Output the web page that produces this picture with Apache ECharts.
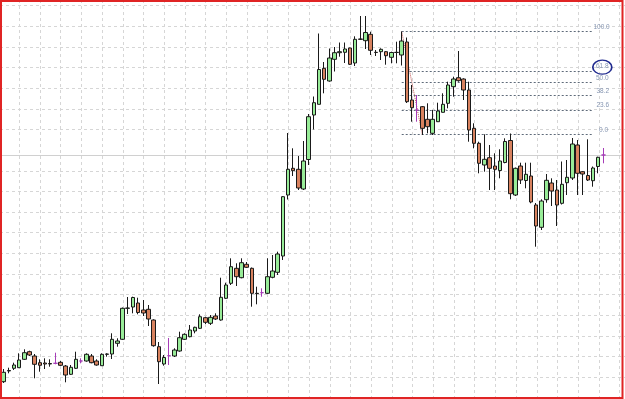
<!DOCTYPE html>
<html><head><meta charset="utf-8">
<script src="https://cdn.jsdelivr.net/npm/echarts@6/dist/echarts.min.js"></script>
<style>html,body{margin:0;padding:0;background:#fff}#c{width:625px;height:399px}</style>
</head><body><div id="c"></div>
<script>
// OHLC values (price units)
const opens=[17.3,28,30.7,31.3,39.7,47.3,43,36.3,36,35.5,
35.7,36.7,33,24.7,30.7,38,38,43,38,33.3,
44.7,45,55.7,59.7,90.7,92,96,89,89.7,79,
52.3,35,43.3,43,48,59.7,62.3,68,70.7,81.3,
75.7,83,79,100.7,115.7,130.7,121.3,134.7,130.7,105.7,
106.3,105.7,121.7,126.7,143,204,230.7,229.7,210,239.5,
284,294.7,330.7,318,339.7,346.3,346.7,351,336,360,
358.3,364.7,346.7,347.3,347.3,341.7,346.7,344,357,299,
289,292.3,279.7,265.7,277.3,286.7,295.7,312.3,321.3,320,
309,270.7,255.7,234,241.3,233,228.5,236.5,258.5,204,
233,218.5,223,194,171.7,199.3,216,209,195.7,216.3,
221,254,227.3,223.5,218.3,232.5,244];
const closes=[26.7,28.5,34,39,46.3,44,34.7,33.7,35,35,
35.7,33.7,24,31.7,39.7,38,44.7,36.3,34,44.7,
45,59.7,58,90.7,91,101.5,86.5,86,80,53.3,
37.3,41.5,43.3,49,61.3,64.7,69,71.7,82.3,76.7,
81.7,80,101.7,114,132.3,122.3,136.3,131.7,105.7,105.3,
106.3,122.3,128,145,202.3,229.7,228.3,211,238,282.3,
296.3,329.5,319.7,341,346.3,347.3,350,334.7,359.7,359.7,
366.5,348.7,346.5,349.7,343.3,346.5,346.5,358,297.3,291.3,
289,270.7,272.3,279.7,288,294.7,314,320,318.3,309,
269,255.7,235.7,239.7,230.7,229.7,238,257.5,205.3,230.7,
219,224.7,197,173,198,218.7,208,194,214.7,221.7,
255,225.7,225,219,231,241.7,244];
const lows=[16,25.7,29,31,39,43,20.7,27.3,30,32.3,
34.7,33,16.7,24,30,35.7,37.3,35.7,33.3,33,
42.3,40,52.3,59,85,85.7,84.7,83,73,52.3,
15,33.3,34,42,47.3,59,61.7,65.7,70,75,
74,79,78.3,100,114,113,120.7,131,92.3,94.7,
102.3,105,120.7,124,139,199.5,223,209,209,234,
269.5,294.7,305.7,317.3,327.5,342.3,336,334,333,359,
350,344,343,339,334.3,335.7,335.7,333.5,296,277.3,
277.3,264,265.7,264,277,286.5,290.7,302.3,317.3,299,
257.3,250.7,225.7,227.3,209,209,220.7,235.7,199.7,203,
215,210.7,195.7,152.3,169,196.3,193,173,194.5,204,
219,204,204,218,212.3,225.7,235.7];
const highs=[30,31.3,36.3,45.7,49.7,48.3,45,39.7,40.7,39.7,
46.3,38,34,34,47.3,40.7,45.7,45,39.7,45.7,
45.7,65.7,60.7,91.5,102,102.3,101.3,99,94,79.7,
57,44,61,50.7,67.3,65.7,74,72.3,84.7,82.3,
84,85.7,121.3,116.3,140.7,135.7,140.7,137,131.5,112.3,
110.7,140.7,144,147.3,203,266,250.7,243,258,285,
302.5,365.5,337,350.5,352,356.5,356.5,351.3,362.7,383,
383,367.3,349,350.7,348,347.3,357.3,367.5,361.5,314,
304,293,295.7,289,296.3,305.7,317.3,322.3,348,320.7,
317.3,275.7,257.3,264.7,254,245.7,249.7,260.7,265.5,231.5,
236.3,236.3,236.3,196,199.7,225,220.7,219,237.5,239,
261,259,228,259.7,232.5,242.3,251];
const dojiBars=[11,16,33,51,81,117]; // unchanged bars (drawn purple)
const fibLabels=['100.0','61.8','50.0','38.2','23.6','0.0'];
const fibValues=[367.3,328.1,316.3,303.3,289,264.7];
const fibStartBar=78, fibEndBar=115, swingLowBar=82;

const categories=[];
for(let i=1;i<=opens.length;i++) categories.push(String(i));
const axisCats=categories.concat(['p1','p2','p3']);

const GREEN='#98ec98', RED='#d8825f', EDGE='#1a1a1a', PURPLE='#a63cb8';
const candleData=opens.map((o,i)=>{
  const item={value:[o,closes[i],lows[i],highs[i]]};
  if(dojiBars.indexOf(i+1)>=0){
    item.itemStyle={color:PURPLE,color0:PURPLE,borderColor:PURPLE,borderColor0:PURPLE,borderColorDoji:PURPLE};
  }
  return item;
});

const labelDist={'100.0':0.5,'61.8':3,'50.0':3,'38.2':3.5,'23.6':3.5,'0.0':6};
const fibLines=fibValues.map((v,k)=>[
  {coord:[categories[fibStartBar-1],v],
   lineStyle:{type:[2,2],color:'#5f6b7a',width:1},
   label:{show:true,position:'end',formatter:fibLabels[k],distance:labelDist[fibLabels[k]],
          color:'#8797b3',fontSize:6.5,fontFamily:'Liberation Sans',offset:[0,-4.3]}},
  {coord:[categories[fibEndBar-1],v]}
]);

const DASH={type:[3,3],color:'#d6d6d6',width:1};
const option={
  animation:false,
  backgroundColor:'#ffffff',
  grid:[
    {left:1.1,top:0,width:620.3,height:399},
    {left:19.3,top:0,width:600.3,height:399},
    {left:0,top:5.7,width:625,height:123.84},
    {left:0,top:170.82,width:625,height:206.4}
  ],
  xAxis:[
    {gridIndex:0,type:'category',data:axisCats,boundaryGap:true,show:false},
    {gridIndex:1,type:'value',min:0,max:600.3,interval:20.7,axisLine:{show:false},axisTick:{show:false},axisLabel:{show:false},splitLine:{show:true,lineStyle:DASH}},
    {gridIndex:2,type:'value',min:0,max:1,show:false},
    {gridIndex:3,type:'value',min:0,max:1,show:false}
  ],
  yAxis:[
    {gridIndex:0,type:'value',min:0,max:399,show:false},
    {gridIndex:1,type:'value',min:0,max:1,show:false},
    {gridIndex:2,type:'value',min:0,max:123.84,interval:20.64,axisLine:{show:false},axisTick:{show:false},axisLabel:{show:false},splitLine:{show:true,lineStyle:DASH}},
    {gridIndex:3,type:'value',min:0,max:206.4,interval:20.64,axisLine:{show:false},axisTick:{show:false},axisLabel:{show:false},splitLine:{show:true,lineStyle:DASH}}
  ],
  series:[
    {type:'line',xAxisIndex:1,yAxisIndex:1,data:[]},
    {type:'line',xAxisIndex:2,yAxisIndex:2,data:[]},
    {type:'line',xAxisIndex:3,yAxisIndex:3,data:[]},
    {type:'candlestick',xAxisIndex:0,yAxisIndex:0,data:candleData,barWidth:4,z:5,
     itemStyle:{color:GREEN,color0:RED,borderColor:EDGE,borderColor0:EDGE,borderColorDoji:EDGE,borderWidth:1},
     markLine:{silent:true,symbol:['none','none'],animation:false,z:4,
       data:[
         {yAxis:closes[closes.length-1],lineStyle:{type:'solid',color:'#d0d0d0',width:1},label:{show:false}},
         [{coord:[categories[fibStartBar-1],highs[fibStartBar-1]],lineStyle:{type:'dotted',color:'#c0504d',width:1},label:{show:false}},
          {coord:[categories[swingLowBar-1],lows[swingLowBar-1]]}]
       ].concat(fibLines)},
     markPoint:{silent:true,animation:false,z:6,
       data:[{coord:[categories[categories.length-1],fibValues[1]],symbol:'circle',symbolSize:[19,14],symbolOffset:[-1,-3.7],
              itemStyle:{color:'none',borderColor:'#1f2a8f',borderWidth:1.5},label:{show:false}}]}
    }
  ],
  graphic:[{type:'rect',z:100,silent:true,shape:{x:1,y:1,width:621.5,height:397},style:{fill:'none',stroke:'#e02424',lineWidth:2}}]
};
const chart=echarts.init(document.getElementById('c'),null,{renderer:'canvas'});
chart.setOption(option);
</script></body></html>
